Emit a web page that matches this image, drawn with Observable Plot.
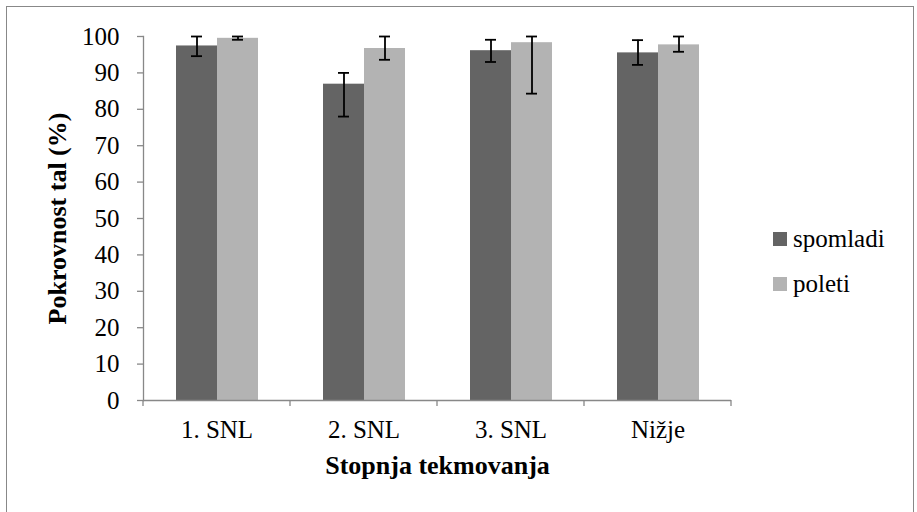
<!DOCTYPE html>
<html>
<head>
<meta charset="utf-8">
<script src="https://cdn.jsdelivr.net/npm/d3@7"></script>
<script src="https://cdn.jsdelivr.net/npm/@observablehq/plot@0.6"></script>
<style>
  html, body { margin: 0; padding: 0; background: #fff; }
  #wrap { position: relative; width: 917px; height: 512px; overflow: hidden; font-family: "Liberation Serif", serif; }
  #border { position: absolute; left: 6px; top: 6px; width: 908px; height: 560px; border: 1.5px solid #888; box-sizing: border-box; }
  #chart { position: absolute; left: 0; top: 0; }
  #legend { position: absolute; left: 773px; top: 0; }
  .item { position: absolute; left: 0; white-space: nowrap; font-family: "Liberation Serif", serif; font-size: 25px; line-height: 25px; color: #000; }
  .sw { position: absolute; left: 0; width: 14px; height: 14px; }
  .lab { position: absolute; left: 20px; font-family: "Liberation Serif", serif; }
  svg text { font-family: "Liberation Serif", serif !important; }
  g[aria-label="y-axis label"] text, g[aria-label="fx-axis label"] text, g[aria-label="y-axis label"], g[aria-label="fx-axis label"] { font-weight: bold; font-size: 26px; font-family: "Liberation Serif", serif; }
</style>
</head>
<body>
<div id="wrap">
  <div id="border"></div>
  <div id="chart"></div>
  <div id="legend"></div>
</div>
<script>
const categories = ["1. SNL", "2. SNL", "3. SNL", "Nižje"];
const series = ["spomladi", "poleti"];
const colors = ["#646464", "#b3b3b3"];
const spomladi = [97.4, 86.9, 96.1, 95.5];
const poleti = [99.5, 96.7, 98.3, 97.7];
const spomladiLow = [94.6, 78.0, 93.0, 92.2];
const spomladiHigh = [100, 90.0, 99.1, 99.0];
const poletiLow = [99.1, 93.6, 84.3, 95.8];
const poletiHigh = [100, 100, 100, 100];
const yTicks = [0, 10, 20, 30, 40, 50, 60, 70, 80, 90, 100];

const rows = [];
categories.forEach((c, i) => {
  rows.push({cat: c, series: "spomladi", value: spomladi[i], low: spomladiLow[i], high: spomladiHigh[i]});
  rows.push({cat: c, series: "poleti", value: poleti[i], low: poletiLow[i], high: poletiHigh[i]});
});

const axisGray = "#888";

const chart = Plot.plot({
  width: 917,
  height: 512,
  marginLeft: 142,
  marginRight: 185,
  marginTop: 36,
  marginBottom: 112,
  style: {fontFamily: "Liberation Serif, serif", fontSize: "25px", color: "#000", background: "transparent", overflow: "visible"},
  fx: {domain: categories, padding: 0},
  x: {domain: series, paddingInner: 0, paddingOuter: 0.756, axis: null},
  y: {domain: [0, 100], axis: null},
  color: {domain: series, range: colors},
  marks: [
    Plot.barY(rows, {fx: "cat", x: "series", y: "value", fill: "series"}),
    Plot.ruleX(rows, {fx: "cat", x: "series", y1: "low", y2: "high", stroke: "#000", strokeWidth: 1.8}),
    Plot.tickY(rows, {fx: "cat", x: "series", y: "low", stroke: "#000", strokeWidth: 1.8, insetLeft: 15, insetRight: 15}),
    Plot.tickY(rows, {fx: "cat", x: "series", y: "high", stroke: "#000", strokeWidth: 1.8, insetLeft: 15, insetRight: 15}),
    Plot.ruleY([0], {stroke: axisGray, strokeWidth: 1.3}),
    Plot.frame({anchor: "left", stroke: axisGray, strokeWidth: 1.3, facetAnchor: "left"}),
    Plot.axisY({anchor: "left", ticks: yTicks, tickSize: 6, tickPadding: 18, stroke: axisGray, strokeWidth: 1.3, tickFormat: d => String(d), label: "Pokrovnost tal (%)", labelAnchor: "center", labelOffset: 96, labelArrow: "none"}),
    Plot.axisFx({anchor: "bottom", tickSize: 0, tickPadding: 20, label: "Stopnja tekmovanja", labelAnchor: "center", labelOffset: 73, labelArrow: "none"})
  ]
});

// category boundary tick marks on the x axis, computed from the fx scale
const fx = chart.scale("fx");
const ys = chart.scale("y");
const y0 = ys.apply(0);
const bounds = categories.map(c => fx.apply(c)).concat([fx.apply(categories[categories.length - 1]) + fx.bandwidth]);
const svg = d3.select(chart.tagName.toLowerCase() === "svg" ? chart : chart.querySelector("svg"));
svg.append("g").attr("aria-label", "category ticks")
  .selectAll("line").data(bounds).join("line")
  .attr("x1", d => d).attr("x2", d => d)
  .attr("y1", y0).attr("y2", y0 + 6)
  .attr("stroke", axisGray).attr("stroke-width", 1.3);

document.getElementById("chart").appendChild(chart);

// legend
const legend = d3.select("#legend");
const legendTops = [226, 271];
series.forEach((s, i) => {
  const item = legend.append("div").attr("class", "item").style("top", legendTops[i] + "px");
  item.append("div").attr("class", "sw").style("top", "6px").style("background", colors[i]);
  item.append("span").attr("class", "lab").text(s);
});
</script>
</body>
</html>
